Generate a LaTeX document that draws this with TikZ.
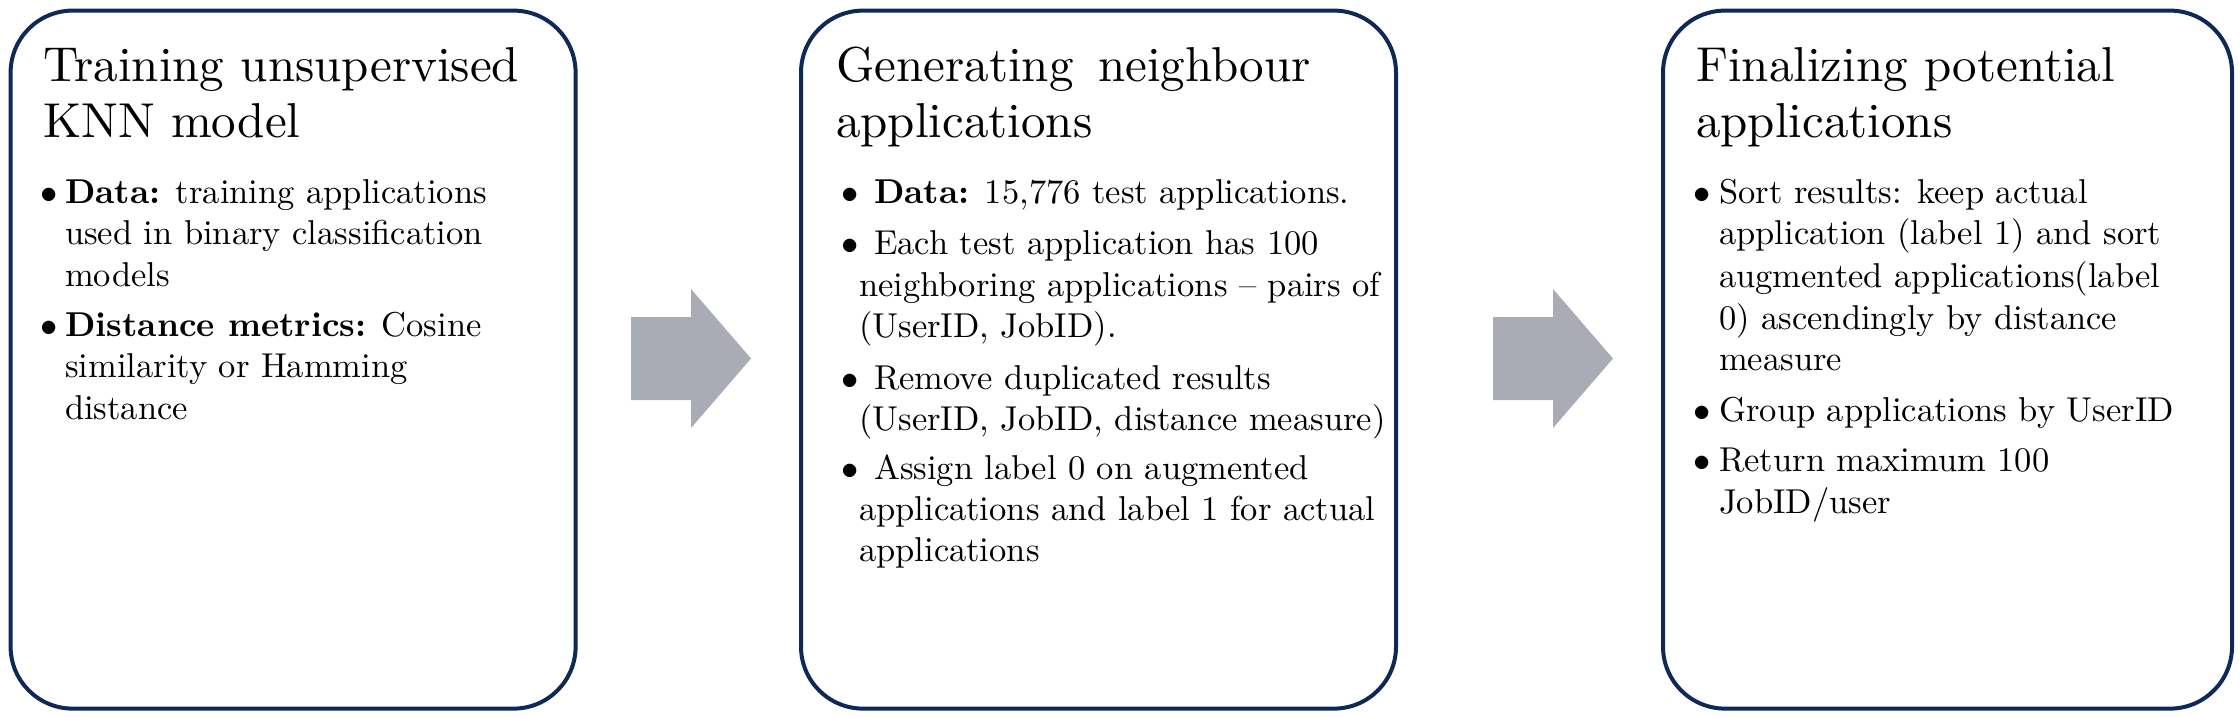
\documentclass[tikz,border=0pt]{standalone}
\definecolor{navy}{RGB}{14,40,88}
\definecolor{arrowgray}{RGB}{169,171,181}
\newcommand{\bodytxt}[1]{\scalebox{3.45}{\fontsize{10}{12}\selectfont #1}}
\newcommand{\titletxt}[1]{\scalebox{4.9}{\fontsize{10}{12}\selectfont #1}}
\begin{document}
\begin{tikzpicture}[x=1pt,y=1pt,
  stagebox/.style={draw=navy, line width=4pt, rounded corners=62pt, fill=white, anchor=north west, inner sep=0pt},
  ttl/.style={anchor=base west, inner sep=0pt},
  body/.style={anchor=base west, inner sep=0pt},
  flow/.style={fill=arrowgray}]
\path[use as bounding box] (0,0) rectangle (2240,-716);
% boxes
\node[stagebox, minimum width=565pt, minimum height=698pt] (b1) at (8.6,-8.6) {};
\node[stagebox, minimum width=595pt, minimum height=698pt] (b2) at (799,-8.6) {};
\node[stagebox, minimum width=569pt, minimum height=698pt] (b3) at (1661,-8.6) {};
% arrows
\fill[flow] (631,-317) -- (691,-317) -- (691,-289) -- (751,-358.5) -- (691,-428) -- (691,-400) -- (631,-400) -- cycle;
\fill[flow] (1493,-317) -- (1553,-317) -- (1553,-289) -- (1613,-358.5) -- (1553,-428) -- (1553,-400) -- (1493,-400) -- cycle;
% titles
\node[ttl] (t1a) at (43,-81) {\titletxt{Training unsupervised}};
\node[ttl] (t1b) at (43,-137) {\titletxt{KNN model}};
\node[ttl] (t2a) at (836,-81) {\titletxt{Generating\hspace{0.5em}neighbour}};
\node[ttl] (t2b) at (836,-137) {\titletxt{applications}};
\node[ttl] (t3a) at (1696,-81) {\titletxt{Finalizing potential}};
\node[ttl] (t3b) at (1696,-137) {\titletxt{applications}};
% box 1 body
\node[body] (p1b1) at (40,-203) {\bodytxt{$\bullet$}};
\node[body] (p1b2) at (40,-336) {\bodytxt{$\bullet$}};
\node[body] (p1l1) at (65,-203) {\bodytxt{\textbf{Data:} training applications}};
\node[body] (p1l2) at (65,-244) {\bodytxt{used in binary classification}};
\node[body] (p1l3) at (65,-286) {\bodytxt{models}};
\node[body] (p1l4) at (65,-336) {\bodytxt{\textbf{Distance metrics:} Cosine}};
\node[body] (p1l5) at (65,-377) {\bodytxt{similarity or Hamming}};
\node[body] (p1l6) at (65,-419) {\bodytxt{distance}};
% box 2 body
\node[body] (p2b1) at (841,-203) {\bodytxt{$\bullet$}};
\node[body] (p2b2) at (841,-254) {\bodytxt{$\bullet$}};
\node[body] (p2b3) at (841,-389) {\bodytxt{$\bullet$}};
\node[body] (p2b4) at (841,-479) {\bodytxt{$\bullet$}};
\node[body] (p2l1) at (874,-203) {\bodytxt{\textbf{Data:} 15,776 test applications.}};
\node[body] (p2l2) at (874,-254) {\bodytxt{Each test application has 100}};
\node[body] (p2l3) at (859,-296) {\bodytxt{neighboring applications -- pairs of}};
\node[body] (p2l4) at (859,-337) {\bodytxt{(UserID, JobID).}};
\node[body] (p2l5) at (874,-389) {\bodytxt{Remove duplicated results}};
\node[body] (p2l6) at (859,-430) {\bodytxt{(UserID, JobID, distance measure)}};
\node[body] (p2l7) at (874,-479) {\bodytxt{Assign label 0 on augmented}};
\node[body] (p2l8) at (859,-520) {\bodytxt{applications and label 1 for actual}};
\node[body] (p2l9) at (859,-561) {\bodytxt{applications}};
% box 3 body
\node[body] (p3b1) at (1693,-203) {\bodytxt{$\bullet$}};
\node[body] (p3b2) at (1693,-421) {\bodytxt{$\bullet$}};
\node[body] (p3b3) at (1693,-471) {\bodytxt{$\bullet$}};
\node[body] (p3l1) at (1719,-203) {\bodytxt{Sort results: keep actual}};
\node[body] (p3l2) at (1719,-244) {\bodytxt{application (label 1) and sort}};
\node[body] (p3l3) at (1719,-287) {\bodytxt{augmented applications(label}};
\node[body] (p3l4) at (1719,-329) {\bodytxt{0) ascendingly by distance}};
\node[body] (p3l5) at (1719,-370) {\bodytxt{measure}};
\node[body] (p3l6) at (1719,-421) {\bodytxt{Group applications by UserID}};
\node[body] (p3l7) at (1719,-471) {\bodytxt{Return maximum 100}};
\node[body] (p3l8) at (1719,-513) {\bodytxt{JobID/user}};
\end{tikzpicture}
\end{document}
